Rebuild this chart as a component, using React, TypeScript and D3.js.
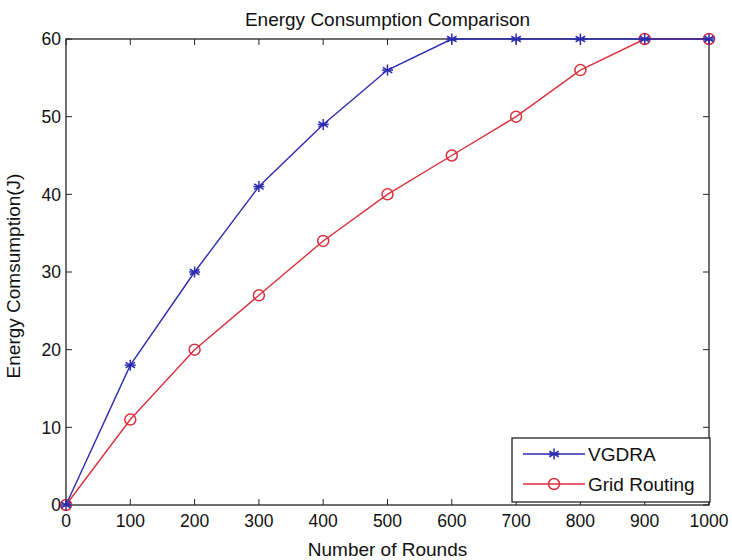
import React, { useEffect, useRef } from "react";
import * as d3 from "d3";

const rounds = [0, 100, 200, 300, 400, 500, 600, 700, 800, 900, 1000];
const vgdra = [0, 18, 30, 41, 49, 56, 60, 60, 60, 60, 60];
const gridRouting = [0, 11, 20, 27, 34, 40, 45, 50, 56, 60, 60];
const xTicks = [0, 100, 200, 300, 400, 500, 600, 700, 800, 900, 1000];
const yTicks = [0, 10, 20, 30, 40, 50, 60];

const W = 732, H = 560;
const margin = { top: 39, right: 23, bottom: 55, left: 66 };
const FONT = "Liberation Sans, Arial, sans-serif";

export default function App() {
  const ref = useRef<SVGSVGElement>(null);

  useEffect(() => {
    const svg = d3.select(ref.current);
    svg.selectAll("*").remove();
    const width = W - margin.left - margin.right;
    const height = H - margin.top - margin.bottom;

    const x = d3.scaleLinear().domain([0, 1000]).range([0, width]);
    const y = d3.scaleLinear().domain([0, 60]).range([height, 0]);

    const g = svg.append("g").attr("transform", `translate(${margin.left},${margin.top})`);

    // frame
    g.append("rect").attr("width", width).attr("height", height)
      .attr("fill", "white").attr("stroke", "#222").attr("stroke-width", 1.3);

    // ticks (inward, both sides like matlab)
    const tl = 6;
    xTicks.forEach(t => {
      g.append("line").attr("x1", x(t)).attr("x2", x(t)).attr("y1", height).attr("y2", height - tl).attr("stroke", "#222");
      g.append("line").attr("x1", x(t)).attr("x2", x(t)).attr("y1", 0).attr("y2", tl).attr("stroke", "#222");
      g.append("text").attr("x", x(t)).attr("y", height + 22).attr("text-anchor", "middle")
        .style("font-family", FONT).style("font-size", "17.5px").attr("fill", "#111").text(t);
    });
    yTicks.forEach(t => {
      g.append("line").attr("x1", 0).attr("x2", tl).attr("y1", y(t)).attr("y2", y(t)).attr("stroke", "#222");
      g.append("line").attr("x1", width).attr("x2", width - tl).attr("y1", y(t)).attr("y2", y(t)).attr("stroke", "#222");
      g.append("text").attr("x", -5).attr("y", y(t)).attr("dy", "0.36em").attr("text-anchor", "end")
        .style("font-family", FONT).style("font-size", "17.5px").attr("fill", "#111").text(t);
    });

    // title & labels
    g.append("text").attr("x", width / 2).attr("y", -13).attr("text-anchor", "middle")
      .style("font-family", FONT).style("font-size", "19px").attr("fill", "#111").text("Energy Consumption Comparison");
    g.append("text").attr("x", width / 2).attr("y", height + 51).attr("text-anchor", "middle")
      .style("font-family", FONT).style("font-size", "19px").attr("fill", "#111").text("Number of Rounds");
    g.append("text").attr("transform", `translate(-46,${height / 2 + 4}) rotate(-90)`).attr("text-anchor", "middle")
      .style("font-family", FONT).style("font-size", "19px").attr("fill", "#111").text("Energy Comsumption(J)");

    const series = [
      { name: "VGDRA", values: vgdra, color: "#2b2bb0", marker: "star" },
      { name: "Grid Routing", values: gridRouting, color: "#d8303c", marker: "circle" },
    ];

    const drawMarker = (sel: any, type: string, color: string, cx: number, cy: number) => {
      if (type === "circle") {
        sel.append("circle").attr("cx", cx).attr("cy", cy).attr("r", 5.5)
          .attr("fill", "none").attr("stroke", color).attr("stroke-width", 1.5);
      } else {
        const s = 5.5;
        const p = sel.append("g").attr("transform", `translate(${cx},${cy})`)
          .attr("stroke", color).attr("stroke-width", 1.5);
        [0, 60, 120].forEach(a => {
          const r = (a * Math.PI) / 180;
          p.append("line").attr("x1", -s * Math.sin(r)).attr("y1", -s * Math.cos(r))
            .attr("x2", s * Math.sin(r)).attr("y2", s * Math.cos(r));
        });
        p.append("line").attr("x1", -s).attr("x2", s).attr("y1", 0).attr("y2", 0);
      }
    };

    const line = d3.line<number>().x((_, i) => x(rounds[i])).y(d => y(d));

    // draw red first then blue on top
    [series[1], series[0]].forEach(s => {
      g.append("path").attr("d", line(s.values)).attr("fill", "none")
        .attr("stroke", s.color).attr("stroke-width", 1.4);
      s.values.forEach((v, i) => drawMarker(g, s.marker, s.color, x(rounds[i]), y(v)));
    });

    // legend
    const lx = 446, ly = 399, lw = width - lx + 1, lh = 64;
    const lg = g.append("g").attr("transform", `translate(${lx},${ly})`);
    lg.append("rect").attr("width", lw).attr("height", lh).attr("fill", "white")
      .attr("stroke", "#222").attr("stroke-width", 1.3);
    series.forEach((s, i) => {
      const yy = 16 + i * 30;
      lg.append("line").attr("x1", 11).attr("x2", 73).attr("y1", yy).attr("y2", yy)
        .attr("stroke", s.color).attr("stroke-width", 1.4);
      drawMarker(lg, s.marker, s.color, 42, yy);
      lg.append("text").attr("x", 76).attr("y", yy).attr("dy", "0.36em")
        .style("font-family", FONT).style("font-size", "19px").attr("fill", "#111").text(s.name);
    });
  }, []);

  return <svg ref={ref} width={W} height={H} style={{ position: "absolute", left: 0, top: 0, background: "white" }} />;
}
